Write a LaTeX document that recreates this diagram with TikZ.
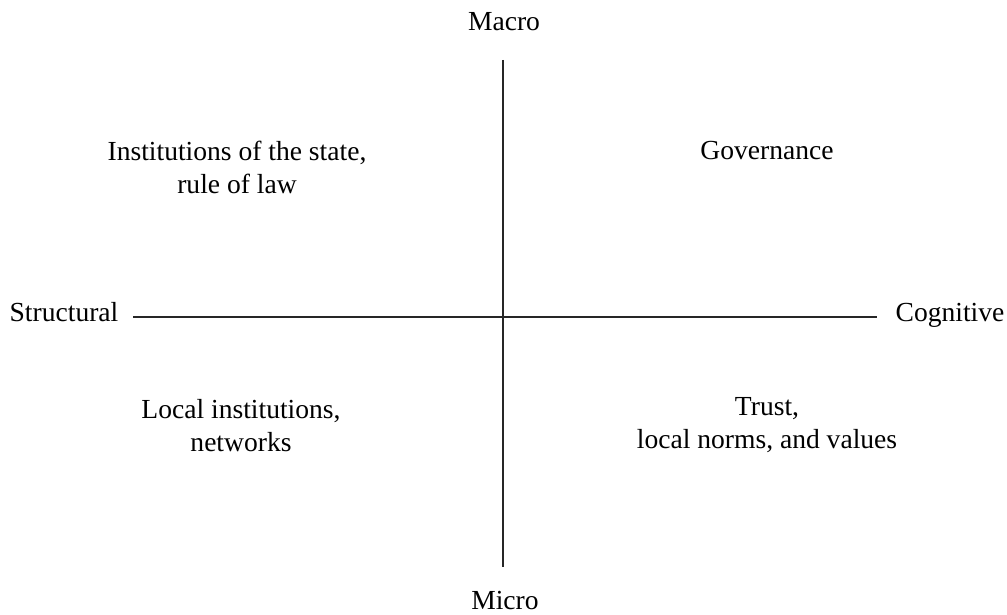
\documentclass[tikz,border=0pt]{standalone}
\usepackage{fontspec}
\setmainfont{Liberation Serif}
\usepackage{tikz}

\begin{document}
\begin{tikzpicture}[%
      x=0.025cm, y=-0.025cm,
      every node/.style={font=\fontsize{19.6}{23.5}\selectfont, align=center, inner sep=0pt},
      label/.style={anchor=base},
      axis/.style={color=black!85, line width=0.9pt},
      ]
      \useasboundingbox (0,0) rectangle (1007,615);

      \coordinate (top) at (503,60);
      \coordinate (bottom) at (503,567);
      \coordinate (left) at (133,317);
      \coordinate (right) at (877,317);

      \draw [axis] (top) -- (bottom);
      \draw [axis] (left) -- (right);

      \node [label] (macro) at (504,31) {Macro};
      \node [label] (micro) at (505,610) {Micro};
      \node [label] (structural) at (64,322) {Structural};
      \node [label] (cognitive) at (950,322) {Cognitive};

      \node (state) at (237,167) {Institutions of the state,\\rule of law};
      \node [label] (governance) at (767,160) {Governance};
      \node (local) at (241,426) {Local institutions,\\networks};
      \node (trust) at (767,425) {Trust,\\local norms, and values};
\end{tikzpicture}
\end{document}
